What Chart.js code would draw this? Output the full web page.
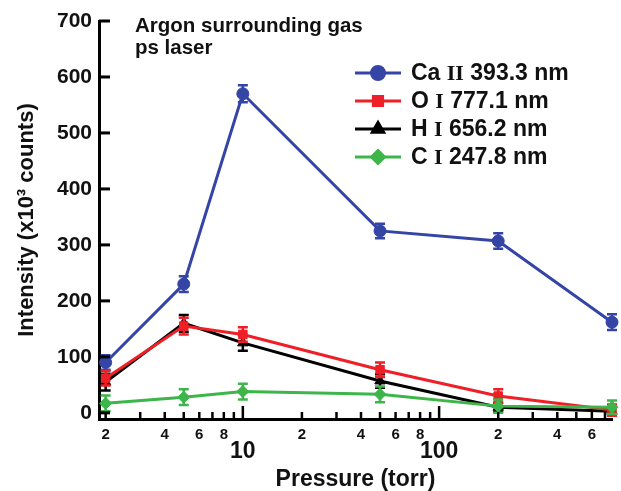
<!DOCTYPE html>
<html>
<head>
<meta charset="utf-8">
<script src="https://cdn.jsdelivr.net/npm/chart.js@4.4.1/dist/chart.umd.min.js"></script>
<style>
  html, body { margin: 0; padding: 0; background: #fff; }
</style>
</head>
<body>
<canvas id="pressureChart" width="621" height="491"></canvas>
<script>
// Pressure (torr) and line intensities (x10^3 counts) with error bars
const pressure = [2, 5, 10, 50, 200, 760];
const caII = [90, 230, 570, 325, 307, 162];
const caErr = [13, 14, 15, 13, 14, 14];
const oI = [62, 155, 140, 77, 30, 5];
const oErr = [13, 15, 13, 13, 12, 10];
const hI = [55, 160, 125, 57, 10, 3];
const hErr = [15, 15, 14, 12, 8, 6];
const cI = [17, 28, 38, 33, 12, 10];
const cErr = [14, 14, 14, 14, 12, 12];
const yTicks = [0, 100, 200, 300, 400, 500, 600, 700];
const xTicks = [2, 3, 4, 5, 6, 7, 8, 9, 10, 20, 30, 40, 50, 60, 70, 80, 90, 100, 200, 300, 400, 500, 600, 700];
const xLabelled = [2, 4, 6, 8, 20, 40, 60, 80, 200, 400, 600];
const decades = [10, 100];

const colors = {
    ca: '#3545a6',
    o: '#ee1f26',
    h: '#000000',
    c: '#3db54a'
};
const SANS = "'Liberation Sans', Arial, sans-serif";
const SERIF = "'Liberation Serif', 'Times New Roman', serif";

function series(label, parts, ys, errs, color, style, radius, order) {
    return {
        label: label,
        parts: parts,
        data: pressure.map((p, i) => ({ x: p, y: ys[i] })),
        errors: errs,
        borderColor: color,
        backgroundColor: color,
        borderWidth: 3,
        pointStyle: style,
        pointRadius: radius,
        pointBorderWidth: 1,
        clip: false,
        order: order
    };
}

// error bars, drawn right after each dataset so layering follows the lines
const errorBars = {
    id: 'errorBars',
    afterDatasetDraw(chart, args) {
        const ds = chart.data.datasets[args.index];
        const meta = args.meta;
        const ys = chart.scales.y;
        const ctx = chart.ctx;
        ctx.save();
        ctx.strokeStyle = ds.borderColor;
        ctx.lineWidth = 2.5;
        meta.data.forEach((pt, i) => {
            const v = ds.data[i].y, e = ds.errors[i];
            const top = ys.getPixelForValue(v + e);
            const bot = ys.getPixelForValue(Math.max(v - e, ys.min));
            ctx.beginPath();
            ctx.moveTo(pt.x, top); ctx.lineTo(pt.x, bot);
            ctx.moveTo(pt.x - 5, top); ctx.lineTo(pt.x + 5, top);
            ctx.moveTo(pt.x - 5, bot); ctx.lineTo(pt.x + 5, bot);
            ctx.stroke();
        });
        ctx.restore();
    }
};

// inward tick marks, decade labels, legend and the note in the corner
const decorations = {
    id: 'decorations',
    afterDraw(chart) {
        const ctx = chart.ctx;
        const xs = chart.scales.x, ys = chart.scales.y;
        const area = chart.chartArea;
        ctx.save();
        ctx.strokeStyle = '#000';
        ctx.lineWidth = 3;
        yTicks.forEach(v => {
            const y = ys.getPixelForValue(v);
            ctx.beginPath();
            ctx.moveTo(area.left, y); ctx.lineTo(area.left + 11, y);
            ctx.stroke();
        });
        ctx.lineWidth = 2.5;
        xTicks.forEach(v => {
            const x = xs.getPixelForValue(v);
            const len = decades.includes(v) ? 13 : 7;
            ctx.beginPath();
            ctx.moveTo(x, area.bottom); ctx.lineTo(x, area.bottom - len);
            ctx.stroke();
        });

        ctx.fillStyle = '#111';
        ctx.textAlign = 'center';
        ctx.textBaseline = 'middle';
        ctx.font = 'bold 23px ' + SANS;
        decades.forEach(v => ctx.fillText(String(v), xs.getPixelForValue(v), 452));

        ctx.textAlign = 'left';
        ctx.font = 'bold 20.5px ' + SANS;
        ctx.fillText('Argon surrounding gas', 135, 26);
        ctx.fillText('ps laser', 135, 48);

        const rows = [73, 101, 129, 157];
        chart.data.datasets.forEach((ds, i) => {
            const y = rows[i];
            ctx.strokeStyle = ds.borderColor;
            ctx.lineWidth = 3;
            ctx.beginPath();
            ctx.moveTo(355, y); ctx.lineTo(401, y);
            ctx.stroke();
            ctx.fillStyle = ds.backgroundColor;
            Chart.helpers.drawPoint(ctx, {
                pointStyle: ds.pointStyle, radius: ds.pointRadius + 0.5, rotation: 0, borderWidth: 1
            }, 378, y);
            let x = 411;
            ctx.fillStyle = '#111';
            ds.parts.forEach((part, k) => {
                ctx.font = k === 1 ? 'bold 22px ' + SERIF : 'bold 23px ' + SANS;
                ctx.fillText(part, x, y + 1);
                x += ctx.measureText(part).width;
            });
        });
        ctx.restore();
    }
};

new Chart(document.getElementById('pressureChart'), {
    type: 'line',
    data: {
        datasets: [
            series('Ca II 393.3 nm', ['Ca ', 'II', ' 393.3 nm'], caII, caErr, colors.ca, 'circle', 6, 3),
            series('O I 777.1 nm', ['O ', 'I', ' 777.1 nm'], oI, oErr, colors.o, 'rect', 6, 1),
            series('H I 656.2 nm', ['H ', 'I', ' 656.2 nm'], hI, hErr, colors.h, 'triangle', 6, 2),
            series('C I 247.8 nm', ['C ', 'I', ' 247.8 nm'], cI, cErr, colors.c, 'rectRot', 6, 0)
        ]
    },
    options: {
        responsive: false,
        animation: false,
        devicePixelRatio: 1,
        layout: { padding: { top: 21, right: 9, left: 0, bottom: 0 } },
        scales: {
            x: {
                type: 'logarithmic',
                min: 1.85,
                max: 760,
                afterBuildTicks: s => { s.ticks = xTicks.map(v => ({ value: v })); },
                afterFit: s => { s.height = 72; },
                grid: { display: false, drawTicks: false },
                border: { display: true, color: '#000', width: 3 },
                ticks: {
                    autoSkip: false,
                    maxRotation: 0,
                    padding: 7,
                    color: '#111',
                    font: { family: SANS, size: 15, weight: 'bold' },
                    callback: v => xLabelled.includes(v) ? String(v / Math.pow(10, Math.floor(Math.log10(v)))) : ''
                },
                title: {
                    display: true,
                    text: 'Pressure (torr)',
                    color: '#111',
                    font: { family: SANS, size: 23, weight: 'bold' },
                    padding: { top: 0, bottom: -2 }
                }
            },
            y: {
                min: -11,
                max: 700,
                afterBuildTicks: s => { s.ticks = yTicks.map(v => ({ value: v })); },
                afterFit: s => { s.width = 99; },
                grid: { display: false, drawTicks: false },
                border: { display: true, color: '#000', width: 3 },
                ticks: {
                    padding: 7,
                    color: '#111',
                    font: { family: SANS, size: 21, weight: 'bold' }
                },
                title: {
                    display: true,
                    text: 'Intensity (x10³ counts)',
                    color: '#111',
                    font: { family: SANS, size: 22, weight: 'bold' },
                    padding: { top: 14, bottom: 0 }
                }
            }
        },
        plugins: {
            legend: { display: false },
            tooltip: { enabled: false }
        }
    },
    plugins: [errorBars, decorations]
});
</script>
</body>
</html>
